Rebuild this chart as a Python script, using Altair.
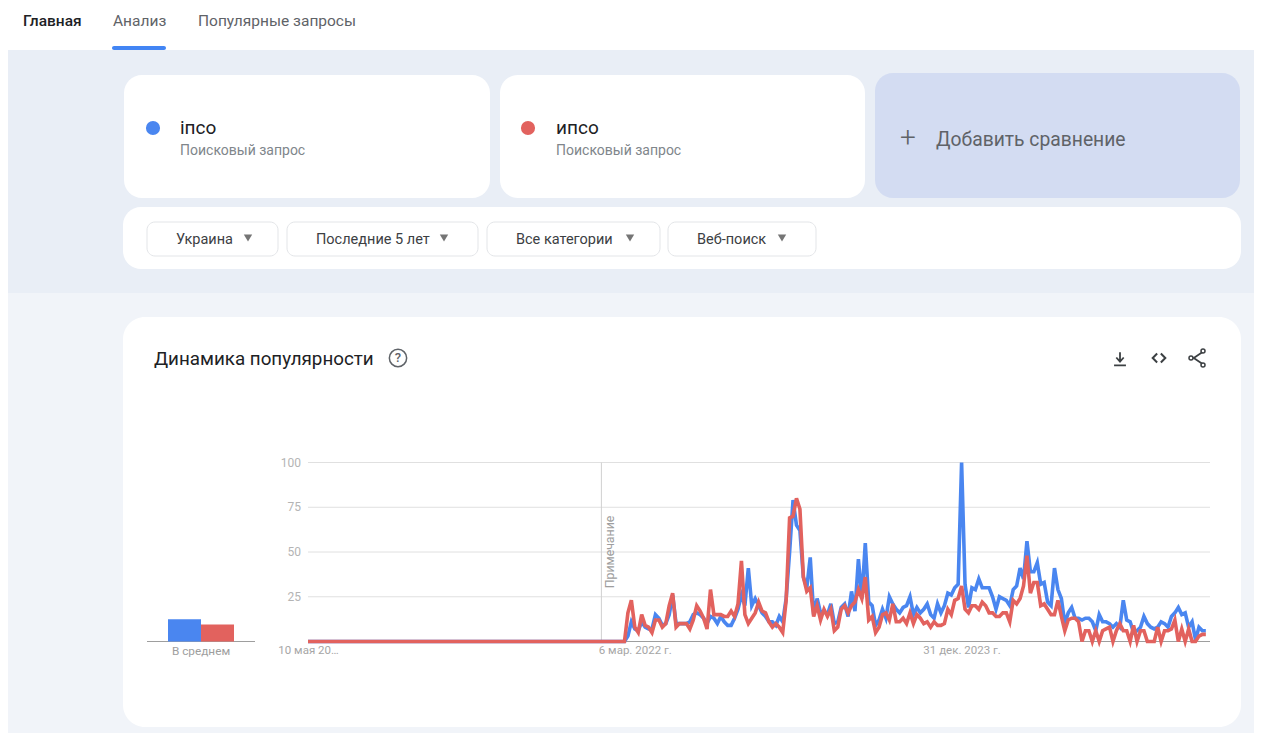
import altair as alt
import pandas as pd

TERMS = ["іпсо", "ипсо"]
COLORS = ["#4a86f0", "#e2625e"]
AVERAGES = [12.5, 9.5]

ZEROS_START = [0] * 92  # both series read flat at zero up to early 2022

BLUE_TAIL = [
    0, 3, 11, 7, 6, 11, 8, 7, 7, 15, 13, 9, 10, 15, 26, 10, 10, 10, 10, 11,
    15, 16, 15, 13, 10, 14, 13, 10, 14, 11, 9, 9, 13, 18, 26, 20, 41, 20, 24, 20,
    16, 14, 11, 11, 9, 14, 11, 24, 50, 79, 65, 62, 36, 30, 47, 15, 24, 16, 17, 15,
    21, 10, 11, 19, 21, 14, 28, 17, 46, 24, 55, 22, 20, 9, 12, 18, 13, 25, 21, 18,
    16, 19, 20, 25, 15, 19, 16, 18, 21, 15, 13, 21, 16, 20, 27, 26, 30, 32, 100, 32,
    19, 30, 29, 35, 30, 30, 30, 25, 18, 25, 24, 23, 20, 29, 31, 41, 35, 56, 39, 39,
    44, 32, 33, 22, 20, 41, 29, 24, 10, 16, 19, 13, 13, 12, 13, 13, 11, 6, 15, 11,
    11, 10, 8, 10, 8, 23, 12, 11, 5, 6, 8, 14, 10, 8, 7, 8, 11, 10, 8, 14,
    16, 19, 15, 16, 8, 11, 1, 8, 6, 6, 6,
][:170]

RED_TAIL = [
    0, 16, 23, 8, 5, 15, 9, 8, 5, 12, 12, 8, 10, 20, 27, 8, 10, 10, 10, 7,
    12, 20, 17, 13, 7, 29, 15, 15, 15, 14, 14, 17, 14, 21, 45, 15, 10, 13, 16, 22,
    17, 16, 11, 8, 10, 8, 5, 23, 69, 70, 80, 74, 36, 28, 30, 14, 20, 12, 18, 14,
    18, 6, 8, 18, 20, 16, 20, 22, 29, 24, 36, 12, 14, 5, 8, 15, 16, 12, 21, 11,
    11, 13, 10, 16, 10, 15, 13, 10, 11, 8, 11, 9, 9, 10, 18, 15, 23, 24, 31, 18,
    16, 20, 20, 18, 22, 20, 16, 16, 14, 14, 16, 16, 11, 23, 21, 24, 31, 48, 27, 33,
    33, 20, 21, 18, 15, 15, 23, 14, 6, 12, 13, 13, 11, 0, 6, 6, 0, 6, 0, 6,
    7, 8, 0, 6, 10, 6, 6, 0, 9, 0, 6, 6, 0, 0, 0, 8, 0, 6, 6, 7,
    12, 0, 7, 0, 7, 0, 0, 3, 4, 4,
][:170]

blue = ZEROS_START + BLUE_TAIL
red = ZEROS_START + RED_TAIL
n = min(len(blue), len(red))
dates = pd.date_range("2020-05-10", periods=n, freq="7D").strftime("%Y-%m-%d").tolist()

series = pd.DataFrame({
    "date": dates * 2,
    "term": [TERMS[0]] * n + [TERMS[1]] * n,
    "value": blue[:n] + red[:n],
})
last_date = dates[-1]

GRID_VALUES = [25, 50, 75, 100]
X_TICKS = [
    alt.DateTime(year=2020, month=5, date=10),
    alt.DateTime(year=2022, month=3, date=6),
    alt.DateTime(year=2023, month=12, date=31),
]
NOTE_DATE = ["2021-12-28"]

FONT = "Roboto"
W, H = 1246, 725
OX, OY = 8, 8  # page margin
one = alt.Data(values=[{"_": 0}])


def box(x0, y0, x1, y1, fill, r=0, stroke=None):
    kw = {"fill": fill, "cornerRadius": r}
    if stroke:
        kw.update(stroke=stroke, strokeWidth=1)
    return alt.Chart(one).mark_rect(**kw).encode(
        x=alt.value(x0 - OX), x2=alt.value(x1 - OX),
        y=alt.value(y0 - OY), y2=alt.value(y1 - OY),
    )


def label(s, x, y, size=13, color="#5f6368", align="left", weight=400, angle=0):
    return alt.Chart(one).mark_text(
        text=s, font=FONT, fontSize=size, color=color, align=align,
        baseline="middle", fontWeight=weight, angle=angle,
    ).encode(x=alt.value(x - OX), y=alt.value(y - OY))


def dot(x, y, size, shape="circle", fill=None, stroke=None, sw=1.5):
    kw = {"shape": shape, "size": size, "opacity": 1}
    if fill:
        kw.update(filled=True, fill=fill)
    else:
        kw.update(filled=False, stroke=stroke, strokeWidth=sw)
    return alt.Chart(one).mark_point(**kw).encode(x=alt.value(x - OX), y=alt.value(y - OY))


x_scale = alt.Scale(
    type="utc",
    domain=[dates[0], last_date],
    range=[308 - OX, 308 + 3.44 * (n - 1) - OX],
)
y_scale = alt.Scale(domain=[0, 100], range=[641.5 - OY, 462.5 - OY], nice=False, zero=True)

layers = [
    box(8, 50, 1258, 293, "#e9eef6"),
    box(8, 293, 1258, 733, "#f1f4f9"),
    box(112, 46, 166, 50, "#4285f4", 2),
    label("Главная", 23, 21, 15.5, "#202124", weight=500),
    label("Анализ", 113, 21, 15.5),
    label("Популярные запросы", 198, 21, 15.5),
    box(124, 75, 490, 198, "#ffffff", 18),
    box(500, 75, 865, 198, "#ffffff", 18),
    box(875, 73, 1240, 198, "#d3dcf2", 18),
    box(123, 207, 1241, 269, "#ffffff", 18),
    dot(153, 128, 200, fill=COLORS[0]),
    dot(528, 128, 200, fill=COLORS[1]),
    label(TERMS[0], 180, 128, 19, "#202124"),
    label("Поисковый запрос", 180, 151, 14, "#80868b"),
    label(TERMS[1], 556, 128, 19, "#202124"),
    label("Поисковый запрос", 556, 151, 14, "#80868b"),
    label("+", 908, 139, 28, "#5f6368", align="center", weight=300),
    label("Добавить сравнение", 936, 140, 19.3, "#5f6368", weight=400),
    box(147, 222, 278, 256, "#ffffff", 8, "#e3e5e8"),
    box(287, 222, 478, 256, "#ffffff", 8, "#e3e5e8"),
    box(487, 222, 660, 256, "#ffffff", 8, "#e3e5e8"),
    box(668, 222, 816, 256, "#ffffff", 8, "#e3e5e8"),
    label("Украина", 176, 240, 14.5, "#3c4043"),
    label("Последние 5 лет", 316, 240, 14.5, "#3c4043"),
    label("Все категории", 516, 240, 14.5, "#3c4043"),
    label("Веб-поиск", 697, 240, 14.5, "#3c4043"),
    dot(248, 238, 70, "triangle-down", fill="#757575"),
    dot(444, 238, 70, "triangle-down", fill="#757575"),
    dot(630, 238, 70, "triangle-down", fill="#757575"),
    dot(782, 238, 70, "triangle-down", fill="#757575"),
    box(123, 317, 1241, 727, "#ffffff", 22),
    label("Динамика популярности", 154, 359, 18.8, "#202124"),
    dot(398, 358, 300, stroke="#5f6368", sw=1.5),
    label("?", 398, 358, 13, "#5f6368", align="center", weight=500),
    dot(1120, 359, 220, "M0,-0.9 L0,0.3 M-0.5,-0.2 L0,0.35 L0.5,-0.2 M-0.8,0.85 L0.8,0.85",
        stroke="#3c4043", sw=1.8),
    dot(1159, 358, 220, "M-0.25,-0.6 L-0.85,0 L-0.25,0.6 M0.25,-0.6 L0.85,0 L0.25,0.6",
        stroke="#3c4043", sw=2),
    dot(1198, 358, 200, "M0.6,-0.8 L-0.6,0 L0.6,0.8", stroke="#3c4043", sw=1.8),
    dot(1203, 351, 16, stroke="#3c4043", sw=1.5),
    dot(1191, 358, 16, stroke="#3c4043", sw=1.5),
    dot(1203, 365, 16, stroke="#3c4043", sw=1.5),
]

# Gridlines and their value labels, both placed through the y scale
grid_df = pd.DataFrame({"v": GRID_VALUES})
grid = alt.Chart(grid_df).mark_rule(color="#e0e0e0", strokeWidth=1).encode(
    y=alt.Y("v:Q", scale=y_scale, axis=None),
    x=alt.value(308 - OX), x2=alt.value(1210 - OX),
)
grid_labels = alt.Chart(grid_df).mark_text(
    font=FONT, fontSize=12, color="#b4b4b4", align="right", baseline="middle"
).encode(
    y=alt.Y("v:Q", scale=y_scale, axis=None),
    x=alt.value(301 - OX),
    text="v:Q",
)
baseline = alt.Chart(pd.DataFrame({"v": [0]})).mark_rule(color="#9e9e9e", strokeWidth=1).encode(
    y=alt.Y("v:Q", scale=y_scale, axis=None),
    x=alt.value(308 - OX), x2=alt.value(1210 - OX),
)
note = alt.Chart(pd.DataFrame({"date": NOTE_DATE, "a": [0], "b": [100]})).mark_rule(
    color="#d0d0d0", strokeWidth=1
).encode(
    x=alt.X("date:T", scale=x_scale, axis=None),
    y=alt.Y("a:Q", scale=y_scale, axis=None),
    y2="b:Q",
)

line = alt.Chart(series).mark_line(strokeWidth=3.6, interpolate="linear", strokeJoin="miter").encode(
    x=alt.X("date:T", scale=x_scale, title=None, axis=alt.Axis(
        values=X_TICKS, grid=False, domain=False, ticks=False, labelFont=FONT,
        labelFontSize=11.5, labelColor="#a6a6a6", labelPadding=3, labelOverlap=False,
        labelFlush=False, labelBound=False, zindex=1,
        labelExpr="utcyear(datum.value)==2020?'10 мая 20…':utcyear(datum.value)==2022?'6 мар. 2022 г.':'31 дек. 2023 г.'",
        offset=-(H - (641.5 - OY)),
    )),
    y=alt.Y("value:Q", scale=y_scale, axis=None),
    color=alt.Color("term:N", scale=alt.Scale(domain=TERMS, range=COLORS), legend=None),
    detail="term:N",
)

bars = alt.Chart(pd.DataFrame({"term": TERMS, "avg": AVERAGES})).mark_bar().encode(
    x=alt.X("term:N", sort=TERMS, scale=alt.Scale(
        type="band", domain=TERMS, range=[168 - OX, 234 - OX], paddingInner=0, paddingOuter=0
    ), axis=None),
    y=alt.Y("avg:Q", scale=y_scale, axis=None),
    color=alt.Color("term:N", scale=alt.Scale(domain=TERMS, range=COLORS), legend=None),
)

layers += [
    grid,
    grid_labels,
    baseline,
    note,
    label("Примечание", 610, 552, 12.3, "#9e9e9e", align="center", angle=270),
    line,
    alt.Chart(one).mark_rule(color="#9e9e9e", strokeWidth=1).encode(
        x=alt.value(147 - OX), x2=alt.value(255 - OX), y=alt.value(641.5 - OY)),
    bars,
    label("В среднем", 201, 651, 11.8, "#9e9e9e", align="center"),
]

chart = alt.layer(*layers).resolve_scale(x="independent", color="shared").properties(
    width=W, height=H, padding=0, background="#ffffff",
    autosize=alt.AutoSizeParams(type="none"),
).configure_view(stroke=None)

chart.save("out.html", embed_options={"renderer": "svg", "actions": False})
